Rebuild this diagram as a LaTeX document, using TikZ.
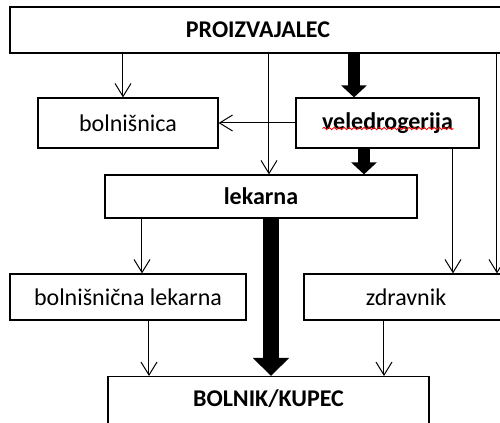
\documentclass[tikz,border=0pt]{standalone}
\usepackage{fontspec}
\setmainfont{Carlito}
\usetikzlibrary{arrows.meta,calc,decorations.pathmorphing}

\tikzset{
    skatla/.style={draw, line width=0.6pt, inner sep=0pt, font=\fontsize{12}{14}\selectfont},
    tanka/.style={line width=0.5pt, -{Straight Barb[length=6.5pt,width=8pt]}},
    debela/.style={line width=6pt, -{Triangle[length=6pt,width=12.5pt]}},
}

\begin{document}
\begin{tikzpicture}[x=0.5pt,y=-0.5pt]
    \useasboundingbox (0,0) rectangle (500,423);
    \clip (0,0) rectangle (500,423);

    %Skatle
        \node[skatla, minimum width=248pt, minimum height=23pt] (proiz) at (258,30) {\bfseries PROIZVAJALEC};
        \node[skatla, minimum width=90pt, minimum height=25pt] (bolnisnica) at (128,123) {bolnišnica};
        \node[skatla, minimum width=91.5pt, minimum height=25pt] (vele) at (387.5,123) {\bfseries veledrogerija};
        \node[skatla, minimum width=156pt, minimum height=21.5pt] (lekarna) at (261,196.5) {\bfseries lekarna};
        \node[skatla, minimum width=118pt, minimum height=23pt] (bolnlek) at (128,297) {bolnišnična lekarna};
        \node[skatla, minimum width=102pt, minimum height=23pt] (zdravnik) at (406,297) {zdravnik};
        \node[skatla, minimum width=160.5pt, text height=14.75pt, text depth=30pt, anchor=north] (bolnik) at (268.5,376) {\bfseries BOLNIK/KUPEC};
        %
        \draw[red, line width=0.4pt, decorate, decoration={snake, amplitude=0.6pt, segment length=2.5pt}]
            ($(vele.center)+(-65,5.5)$) -- ++(131,0);

    %Puscice
        \coordinate (xa) at (123,0);
        \coordinate (xb) at (269,0);
        \coordinate (xc) at (354,0);
        \coordinate (xd) at (364,0);
        \coordinate (xe) at (453,0);
        \coordinate (xf) at (497,0);
        \coordinate (xg) at (142,0);
        \coordinate (xh) at (271,0);
        \coordinate (xi) at (149,0);
        \coordinate (xj) at (384,0);
        %
        \draw[tanka] (proiz.south -| xa) -- (bolnisnica.north -| xa);
        \draw[tanka] (proiz.south -| xb) -- (lekarna.north -| xb);
        \draw[debela] (proiz.south -| xc) -- (vele.north -| xc);
        \draw[tanka] (proiz.south -| xf) -- (zdravnik.north -| xf);
        %
        \draw[tanka] (vele.west) -- (bolnisnica.east);
        \draw[debela] (vele.south -| xd) -- (lekarna.north -| xd);
        \draw[tanka] (vele.south -| xe) -- (zdravnik.north -| xe);
        %
        \draw[tanka] (lekarna.south -| xg) -- (bolnlek.north -| xg);
        \draw[debela, line width=8pt, -{Triangle[length=9pt,width=17.5pt]}] (lekarna.south -| xh) -- (bolnik.north -| xh);
        %
        \draw[tanka] (bolnlek.south -| xi) -- (bolnik.north -| xi);
        \draw[tanka] (zdravnik.south -| xj) -- (bolnik.north -| xj);

\end{tikzpicture}
\end{document}
